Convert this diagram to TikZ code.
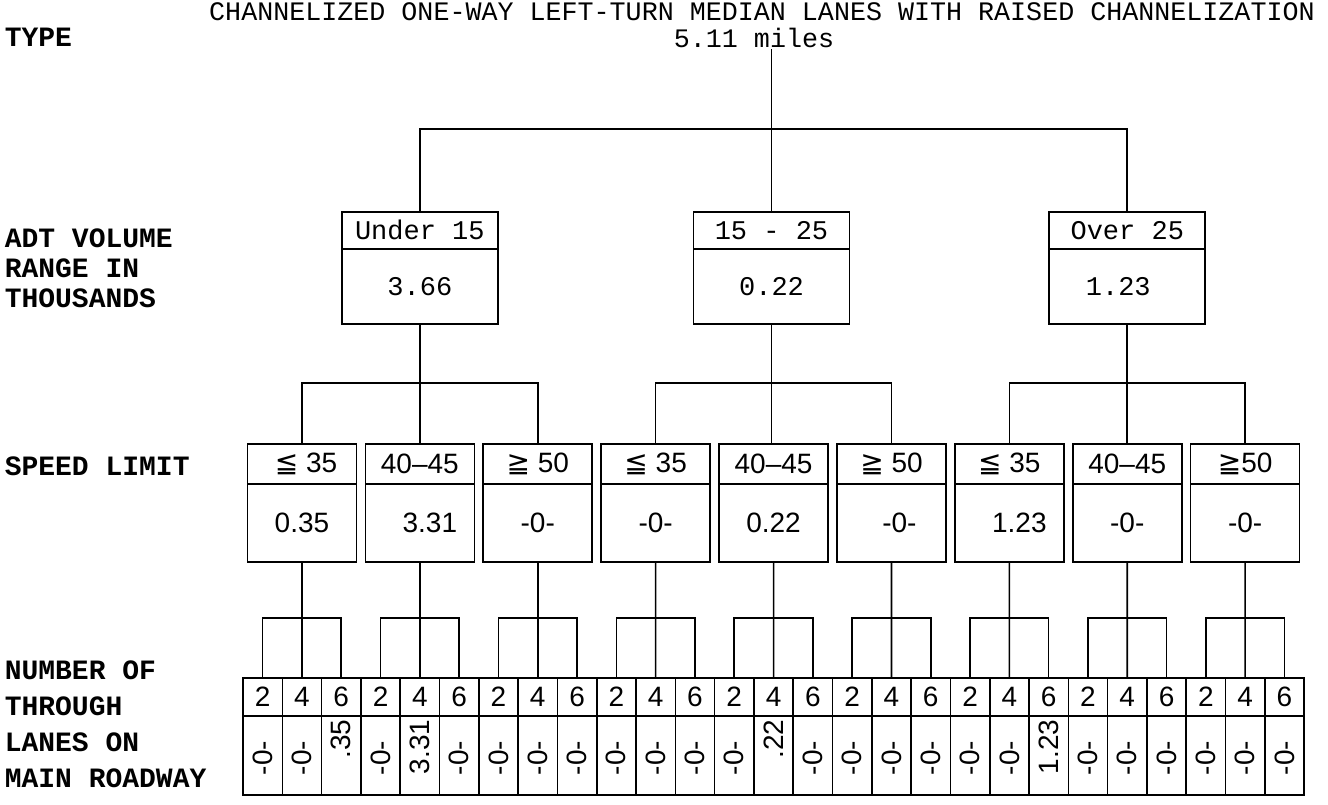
\documentclass[tikz,border=0pt]{standalone}
\usepackage{fontspec}
\newfontfamily\tw{Liberation Mono}
\newfontfamily\sn{Liberation Sans}
\newfontfamily\sym{DejaVu Sans}
\begin{document}
\begin{tikzpicture}[x=1pt,y=-1pt,line width=1.6pt,
  every node/.style={inner sep=0pt},
  lbl/.style={font=\tw\bfseries\fontsize{28}{30}\selectfont, align=left, anchor=west},
  lblw/.style={font=\tw\bfseries\fontsize{28}{36}\selectfont, align=left, anchor=west},
  ttl/.style={font=\tw\fontsize{26.7}{28}\selectfont, anchor=base},
  l2h/.style={draw, minimum width=156pt, minimum height=37pt, anchor=north, font=\tw\fontsize{27}{27}\selectfont},
  l2b/.style={draw, minimum width=156pt, minimum height=75pt, anchor=north, font=\tw\fontsize{27}{27}\selectfont},
  l3h/.style={draw, minimum width=109pt, minimum height=40pt, anchor=north, font=\sn\fontsize{28}{28}\selectfont},
  l3b/.style={draw, minimum width=109pt, minimum height=78pt, anchor=north, font=\sn\fontsize{28}{28}\selectfont},
  lnh/.style={draw, minimum width=39.3pt, minimum height=38pt, anchor=north, font=\sn\fontsize{28}{28}\selectfont},
  lnb/.style={draw, minimum width=39.3pt, minimum height=79pt, anchor=north},
  val/.style={font=\sn\fontsize{28}{28}\selectfont, rotate=90},
]
\useasboundingbox (0,0) rectangle (1328,805);

% titles and row labels
\node[ttl] (title) at (762,21) {CHANNELIZED ONE-WAY LEFT-TURN MEDIAN LANES WITH RAISED CHANNELIZATION};
\node[ttl] (miles) at (754,48) {5.11 miles};
\node[lbl] (ltype) at (4,37) {TYPE};
\node[lbl] (ladt) at (4,268) {ADT VOLUME\\RANGE IN\\THOUSANDS};
\node[lbl] (lspeed) at (4,466) {SPEED LIMIT};
\node[lblw] (llanes) at (4,724) {NUMBER OF\\THROUGH\\LANES ON\\MAIN ROADWAY};

% level 2: ADT volume
\node[l2h] (A1h) at (419.85,211) {Under 15};
\node[l2b] (A1)  at (419.85,248) {3.66};
\node[l2h] (A2h) at (771.5,211) {15 - 25};
\node[l2b] (A2)  at (771.5,248) {0.22};
\node[l2h] (A3h) at (1127.25,211) {Over 25};
\node[l2b] (A3)  at (1127.25,248) {\hspace{-18pt}1.23};

% level 3: speed limit
\node[l3h] (B0h) at (301.95,443) {\hspace{8pt}{\sym≦} 35};
\node[l3b] (B0)  at (301.95,483) {0.35};
\node[l3h] (B1h) at (419.85,443) {40–45};
\node[l3b] (B1)  at (419.85,483) {\hspace{20pt}3.31};
\node[l3h] (B2h) at (537.75,443) {{\sym≧} 50};
\node[l3b] (B2)  at (537.75,483) {-0-};
\node[l3h] (B3h) at (655.65,443) {{\sym≦} 35};
\node[l3b] (B3)  at (655.65,483) {-0-};
\node[l3h] (B4h) at (773.55,443) {40–45};
\node[l3b] (B4)  at (773.55,483) {0.22};
\node[l3h] (B5h) at (891.45,443) {{\sym≧} 50};
\node[l3b] (B5)  at (891.45,483) {\hspace{16pt}-0-};
\node[l3h] (B6h) at (1009.35,443) {{\sym≦} 35};
\node[l3b] (B6)  at (1009.35,483) {\hspace{20pt}1.23};
\node[l3h] (B7h) at (1127.25,443) {40–45};
\node[l3b] (B7)  at (1127.25,483) {-0-};
\node[l3h] (B8h) at (1245.15,443) {{\sym≧}50};
\node[l3b] (B8)  at (1245.15,483) {-0-};

% level 4: number of through lanes
\foreach \v/\yy/\an [count=\k from 0] in {
  -0-/758/center, -0-/758/center, .35/719/east,
  -0-/758/center, 3.31/719/east, -0-/758/center,
  -0-/758/center, -0-/758/center, -0-/758/center,
  -0-/758/center, -0-/758/center, -0-/758/center,
  -0-/758/center, .22/719/east, -0-/758/center,
  -0-/758/center, -0-/758/center, -0-/758/center,
  -0-/758/center, -0-/758/center, 1.23/719/east,
  -0-/758/center, -0-/758/center, -0-/758/center,
  -0-/758/center, -0-/758/center, -0-/758/center} {
  \pgfmathsetmacro\xx{262.65+39.3*\k}
  \pgfmathtruncatemacro\ln{2*mod(\k,3)+2}
  \node[lnh] (h\k) at (\xx,677) {\ln};
  \node[lnb] (b\k) at (\xx,715) {};
  \node[val, anchor=\an] (v\k) at (\xx,\yy) {\v};
}

% connectors
\draw (A2h.north) -- (A2h.north |- miles.south);
\draw (A1h.north) -- ++(0,-82) -| (A3h.north);
\draw (A1.south) -- (B1h.north);
\draw (A2.south) -- (A2.south |- B4h.north);
\draw (A3.south) -- (B7h.north);
\foreach \a/\c in {0/2,3/5,6/8} {
  \draw (B\a h.north) -- ++(0,-60) -| (B\c h.north);
}
\foreach \i in {0,...,8} {
  \pgfmathtruncatemacro\p{3*\i}
  \pgfmathtruncatemacro\q{3*\i+1}
  \pgfmathtruncatemacro\r{3*\i+2}
  \draw (h\p.north) -- ++(0,-59) -| (h\r.north);
  \draw (B\i.south) -- (h\q.north);
}
\end{tikzpicture}
\end{document}
